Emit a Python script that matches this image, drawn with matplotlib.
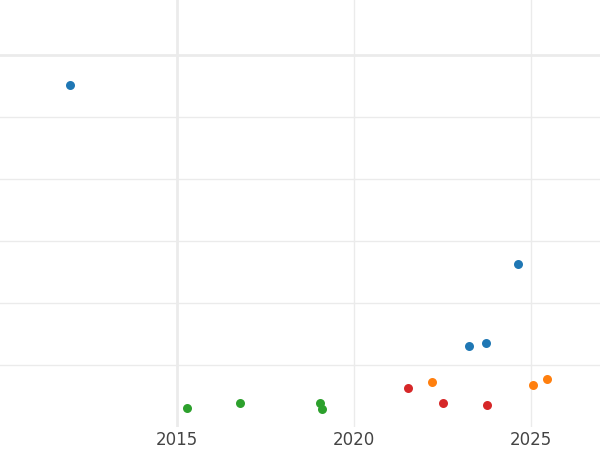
import matplotlib
matplotlib.use("Agg")
import matplotlib.pyplot as plt

# points by group (year, value)
blue_x = [2011.98, 2024.63, 2023.25, 2023.73]
blue_y = [5.52, 2.63, 1.31, 1.36]
orange_x = [2022.20, 2025.06, 2025.45]
orange_y = [0.73, 0.68, 0.77]
red_x = [2021.53, 2022.51, 2023.76]
red_y = [0.63, 0.39, 0.36]
green_x = [2015.28, 2016.78, 2019.04, 2019.10]
green_y = [0.31, 0.39, 0.39, 0.29]

xticks = [2015, 2020, 2025]
yticks = [1, 2, 3, 4, 5, 6]

fig = plt.figure(figsize=(6, 4.5), dpi=100)
ax = fig.add_axes([0, 23 / 450, 1, 427 / 450])

for t in xticks:
    ax.axvline(t, color="#ebebeb", lw=2 if t == 2015 else 1, zorder=0)
for t in yticks:
    ax.axhline(t, color="#ebebeb", lw=2 if t == 6 else 1, zorder=0)

ax.scatter(blue_x, blue_y, s=42, color="#1f77b4", zorder=3, linewidths=0)
ax.scatter(orange_x, orange_y, s=42, color="#ff7f0e", zorder=3, linewidths=0)
ax.scatter(red_x, red_y, s=42, color="#d62728", zorder=3, linewidths=0)
ax.scatter(green_x, green_y, s=42, color="#2ca02c", zorder=3, linewidths=0)

ax.set_xlim(2010, 2026.95)
ax.set_ylim(0, 427 / 62)
ax.set_xticks(xticks)
ax.set_xticklabels([str(t) for t in xticks], fontsize=12, color="#444444")
ax.set_yticks([])
ax.tick_params(axis="x", length=0, pad=3)
for s in ax.spines.values():
    s.set_visible(False)

fig.savefig("out.png", dpi=100)
